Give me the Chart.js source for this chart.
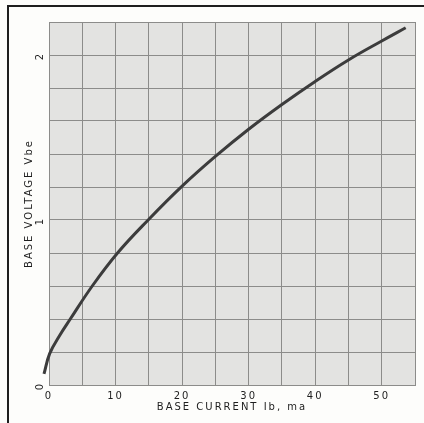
<!DOCTYPE html>
<html>
<head>
<meta charset="utf-8">
<script src="https://cdn.jsdelivr.net/npm/chart.js@4/dist/chart.umd.min.js"></script>
<style>
  html, body { margin: 0; padding: 0; background: #fdfdfb; }
  #wrap { width: 424px; height: 423px; }
</style>
</head>
<body>
<div id="wrap"><canvas id="chartVbe" width="424" height="423"></canvas></div>
<script>
// curve: base current (ma) vs base voltage
const baseCurrent = [-0.75, 0.1, 1.6, 3.2, 6.5, 10.3, 14.9, 20, 25, 30, 35, 40, 45, 50, 53.6];
const baseVoltage = [0.067, 0.19, 0.3, 0.4, 0.6, 0.8, 1.0, 1.205, 1.385, 1.55, 1.70, 1.84, 1.97, 2.085, 2.165];
const xLabelsShown = [0, 10, 20, 30, 40, 50];
const yLabelsShown = [0, 1, 2];

const ctx = document.getElementById('chartVbe').getContext('2d');

const gridGray = '#8c8c8a';

const puntos = baseCurrent.map((x, i) => ({ x: x, y: baseVoltage[i] }));

// fondo gris del area y marco negro de la figura
const fondo = {
    id: 'fondo',
    beforeDraw(chart) {
        const c = chart.ctx;
        const a = chart.chartArea;
        c.letterSpacing = '2px';
        c.save();
        c.fillStyle = '#e3e3e1';
        c.fillRect(a.left, a.top, a.right - a.left, a.bottom - a.top);
        c.restore();
    },
    afterDraw(chart) {
        const c = chart.ctx;
        c.save();
        c.strokeStyle = '#1e1e1e';
        c.lineWidth = 2;
        c.beginPath();
        c.moveTo(8, 423);
        c.lineTo(8, 6);
        c.lineTo(424, 6);
        c.stroke();
        c.restore();
    }
};

const chartVbe = new Chart(ctx, {
    type: 'scatter',
    data: {
        datasets: [{
            data: puntos,
            showLine: true,
            borderColor: '#3c3c3c',
            borderWidth: 3,
            pointRadius: 0,
            tension: 0.4,
            clip: 8
        }]
    },
    options: {
        responsive: false,
        animation: false,
        layout: { padding: { left: 0, right: 9, top: 22, bottom: 0 } },
        plugins: { legend: { display: false }, tooltip: { enabled: false } },
        scales: {
            x: {
                type: 'linear',
                min: 0,
                max: 55,
                afterFit: (scale) => { scale.height = 38; },
                border: { display: true, color: gridGray, width: 1 },
                grid: { color: gridGray, lineWidth: 1, drawTicks: false },
                ticks: {
                    stepSize: 5,
                    padding: 5,
                    color: '#1e1e1e',
                    font: { family: 'DejaVu Sans', size: 10 },
                    callback: (v) => xLabelsShown.includes(v) ? String(v) : ''
                },
                title: {
                    display: true,
                    text: 'BASE CURRENT Ib, ma',
                    color: '#1e1e1e',
                    font: { family: 'DejaVu Sans', size: 10 },
                    padding: { top: 0, bottom: 10 }
                }
            },
            y: {
                type: 'linear',
                min: 0,
                max: 2.2,
                afterFit: (scale) => { scale.width = 49; },
                border: { display: true, color: gridGray, width: 1 },
                grid: { color: gridGray, lineWidth: 1, drawTicks: false },
                ticks: {
                    stepSize: 0.2,
                    padding: 9,
                    minRotation: 90,
                    maxRotation: 90,
                    labelOffset: -3,
                    color: '#1e1e1e',
                    font: { family: 'DejaVu Sans', size: 10 },
                    callback: (v) => {
                        const r = Math.round(v * 1000) / 1000;
                        return yLabelsShown.includes(r) ? String(r) : '';
                    }
                },
                title: {
                    display: true,
                    text: 'BASE VOLTAGE Vbe',
                    color: '#1e1e1e',
                    font: { family: 'DejaVu Sans', size: 10 },
                    padding: { top: 23, bottom: 0 }
                }
            }
        }
    },
    plugins: [fondo]
});
</script>
</body>
</html>
